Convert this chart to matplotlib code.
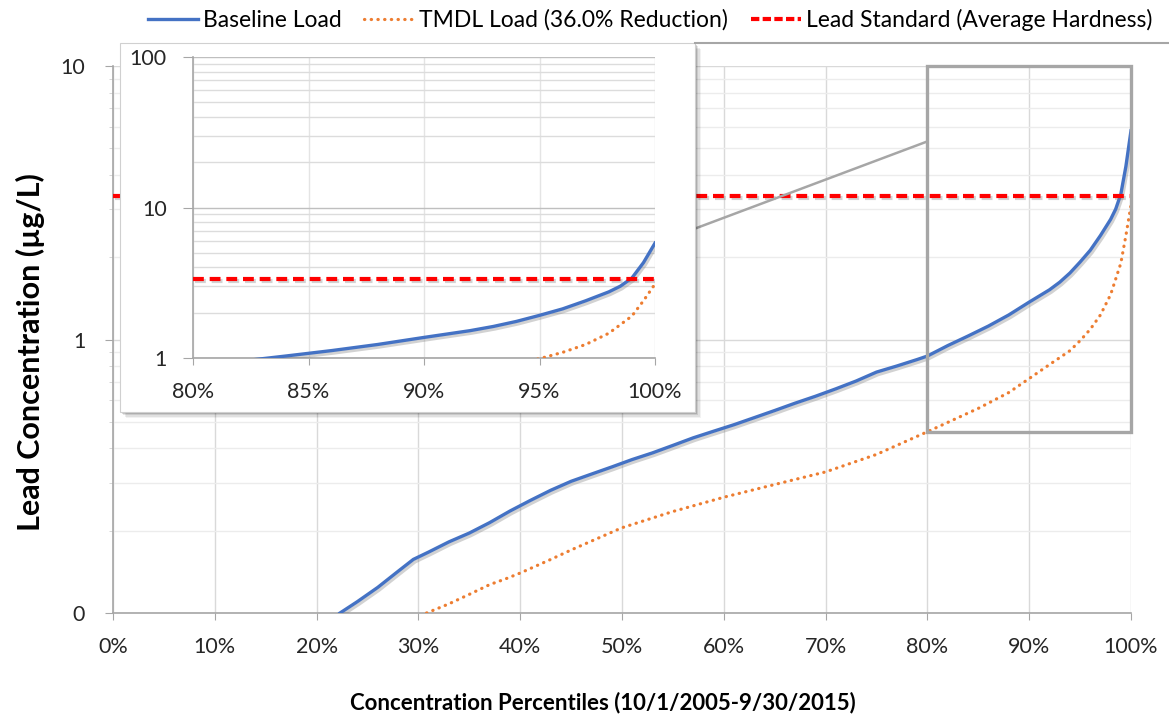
import matplotlib
matplotlib.use("Agg")
import matplotlib.pyplot as plt
import matplotlib.patheffects as pe
from matplotlib.patches import Rectangle
from matplotlib.lines import Line2D
from matplotlib.ticker import FixedLocator, FuncFormatter, LogLocator, NullFormatter

plt.rcParams['font.family'] = ['Lato', 'DejaVu Sans']

# ---- data ----
baseline_pct = [22.3, 24, 26, 28, 29.5, 31, 33, 35, 37, 39, 41, 43, 45, 47, 49, 51, 53, 55,
                57, 59, 61, 63, 65, 67, 69, 71, 73, 75, 77, 79, 80, 82, 84, 86, 88, 90,
                92, 93, 94, 95, 96, 97, 98, 98.5, 99, 99.5, 100]
baseline_val = [0.100, 0.110, 0.124, 0.142, 0.157, 0.167, 0.182, 0.196, 0.214, 0.236, 0.258,
                0.281, 0.303, 0.322, 0.342, 0.364, 0.385, 0.410, 0.437, 0.462, 0.488, 0.518,
                0.550, 0.585, 0.620, 0.660, 0.705, 0.760, 0.800, 0.845, 0.870, 0.950, 1.03,
                1.12, 1.23, 1.37, 1.52, 1.62, 1.75, 1.92, 2.12, 2.40, 2.75, 3.00, 3.40, 4.30, 5.80]

tmdl_pct = [30.8, 33, 35, 37, 38.5, 40, 43, 45, 50, 55, 60, 65, 70, 75, 80, 85, 88, 90,
            92, 94, 95, 96, 97, 98, 99, 99.5, 100]
tmdl_val = [0.100, 0.108, 0.117, 0.127, 0.133, 0.140, 0.157, 0.170, 0.205, 0.235, 0.265,
            0.295, 0.328, 0.380, 0.460, 0.560, 0.640, 0.720, 0.810, 0.910, 0.990, 1.09,
            1.23, 1.46, 1.90, 2.40, 3.10]

standard_val = 3.35

main_xticks = [0, 10, 20, 30, 40, 50, 60, 70, 80, 90, 100]
main_yticks = [0.1, 1, 10]
main_ylabels = ["0", "1", "10"]
inset_xticks = [80, 85, 90, 95, 100]
inset_yticks = [1, 10, 100]
inset_ylabels = ["1", "10", "100"]

legend_labels = ["Baseline Load", "TMDL Load (36.0% Reduction)", "Lead Standard (Average Hardness)"]
xlabel = "Concentration Percentiles (10/1/2005-9/30/2015)"
ylabel = "Lead Concentration (µg/L)"

BLUE = "#4472C4"
ORANGE = "#ED7D31"
RED = "#FF0000"
GRID_MAJ = "#d9d9d9"
GRID_MIN = "#ececec"
SPINE = "#a6a6a6"
TXT = "#262626"

W, H = 1169, 718
fig = plt.figure(figsize=(W / 100, H / 100), dpi=100)


def fx(px):
    return px / W


def fy(py):
    return 1 - py / H


shadow = [pe.SimpleLineShadow(offset=(1.2, -1.8), shadow_color="#7f7f7f", alpha=0.35), pe.Normal()]

# ---- main axes ----
ax = fig.add_axes([fx(113), fy(613), fx(1131) - fx(113), fy(66) - fy(613)])
ax.set_yscale("log")
ax.set_xlim(0, 100)
ax.set_ylim(0.1, 10)
ax.yaxis.set_major_locator(FixedLocator(main_yticks))
ax.yaxis.set_major_formatter(FuncFormatter(lambda v, p: main_ylabels[main_yticks.index(v)] if v in main_yticks else ""))
ax.yaxis.set_minor_locator(LogLocator(base=10, subs=range(2, 10)))
ax.yaxis.set_minor_formatter(NullFormatter())
ax.xaxis.set_major_locator(FixedLocator(main_xticks))
ax.xaxis.set_major_formatter(FuncFormatter(lambda v, p: f"{v:.0f}%"))
ax.grid(True, which="major", color=GRID_MAJ, lw=1.0)
ax.grid(True, which="minor", axis="y", color=GRID_MIN, lw=1.0)
ax.set_axisbelow(True)
for s in ["top", "right"]:
    ax.spines[s].set_visible(False)
for s in ["left", "bottom"]:
    ax.spines[s].set_color(SPINE)
    ax.spines[s].set_linewidth(1.2)
ax.tick_params(axis="both", which="major", colors=SPINE, labelcolor=TXT, labelsize=15.5)
ax.tick_params(axis="x", which="major", length=5, pad=12)
ax.tick_params(axis="y", which="major", length=6, pad=14)
ax.tick_params(axis="y", which="minor", length=3, colors="#d0d0d0")

ax.plot(baseline_pct, baseline_val, color=BLUE, lw=2.4, path_effects=shadow, zorder=4)
ax.plot(tmdl_pct, tmdl_val, color=ORANGE, lw=2.3, linestyle=(0, (0.1, 2.0)),
        dash_capstyle="round", zorder=4)
ax.axhline(standard_val, color=RED, lw=3.0, linestyle=(0, (2.6, 1.4)), path_effects=shadow, zorder=4)

# zoom box and connector
ax.add_patch(Rectangle((80, 0.46), 20, 10 - 0.46, fill=False, edgecolor="#a6a6a6", lw=2.4, zorder=5,
                       clip_on=False))
ax.plot([56, 80], [2.45, 5.3], color="#a6a6a6", lw=1.8, zorder=5)

fig.text(fx(603), fy(703), xlabel, ha="center", va="center", fontsize=16, fontweight="bold")
fig.text(fx(30), fy(352), ylabel, ha="center", va="center", rotation=90, fontsize=22, fontweight="bold")

# ---- inset box with shadow ----
for i, a in enumerate([0.05, 0.07, 0.10, 0.14]):
    off = 6 - i * 1.3
    fig.add_artist(Rectangle((fx(120 + off), fy(412 + off)), fx(695 - 120), fy(43) - fy(412),
                             transform=fig.transFigure, facecolor="#000000", alpha=a,
                             edgecolor="none", zorder=1))
fig.add_artist(Rectangle((fx(120), fy(412)), fx(695 - 120), fy(43) - fy(412),
                         transform=fig.transFigure, facecolor="white", edgecolor="#d0d0d0",
                         lw=0.8, zorder=1.5))
fig.add_artist(Line2D([fx(695), fx(1169)], [fy(43), fy(43)], transform=fig.transFigure,
                      color="#a6a6a6", lw=1.5, zorder=1.6))

ins = fig.add_axes([fx(193), fy(358), fx(655) - fx(193), fy(57) - fy(358)], zorder=3)
ins.patch.set_alpha(0)
ins.set_yscale("log")
ins.set_xlim(80, 100)
ins.set_ylim(1, 100)
ins.yaxis.set_major_locator(FixedLocator(inset_yticks))
ins.yaxis.set_major_formatter(FuncFormatter(lambda v, p: inset_ylabels[inset_yticks.index(v)] if v in inset_yticks else ""))
ins.yaxis.set_minor_locator(LogLocator(base=10, subs=range(2, 10)))
ins.yaxis.set_minor_formatter(NullFormatter())
ins.xaxis.set_major_locator(FixedLocator(inset_xticks))
ins.xaxis.set_major_formatter(FuncFormatter(lambda v, p: f"{v:.0f}%"))
ins.grid(True, which="major", axis="y", color="#bfbfbf", lw=1.0)
ins.grid(True, which="minor", axis="y", color="#dcdcdc", lw=1.0)
ins.grid(True, which="major", axis="x", color="#e4e4e4", lw=1.0)
ins.set_axisbelow(True)
for s in ["top", "right"]:
    ins.spines[s].set_visible(False)
for s in ["left", "bottom"]:
    ins.spines[s].set_color(SPINE)
    ins.spines[s].set_linewidth(1.2)
ins.tick_params(axis="both", which="major", colors=SPINE, labelcolor=TXT, labelsize=15.5)
ins.tick_params(axis="x", which="major", length=5, pad=12)
ins.tick_params(axis="y", which="major", length=7, pad=12)
ins.tick_params(axis="y", which="minor", length=0)

ins.plot(baseline_pct, baseline_val, color=BLUE, lw=2.4, path_effects=shadow, zorder=4)
ins.plot(tmdl_pct, tmdl_val, color=ORANGE, lw=2.3, linestyle=(0, (0.1, 2.0)),
         dash_capstyle="round", zorder=4)
ins.axhline(standard_val, color=RED, lw=3.0, linestyle=(0, (2.6, 1.4)), path_effects=shadow, zorder=4)

# ---- legend ----
handles = [
    Line2D([], [], color=BLUE, lw=2.4),
    Line2D([], [], color=ORANGE, lw=2.3, linestyle=(0, (0.1, 2.0)), dash_capstyle="round"),
    Line2D([], [], color=RED, lw=3.0, linestyle=(0, (2.0, 0.8))),
]
fig.legend(handles, legend_labels, loc="center", bbox_to_anchor=(fx(650), fy(20)), ncol=3,
           frameon=False, fontsize=16.5, handlelength=2.2, handletextpad=0.2, columnspacing=1.0)

fig.savefig("out.png", dpi=100)
